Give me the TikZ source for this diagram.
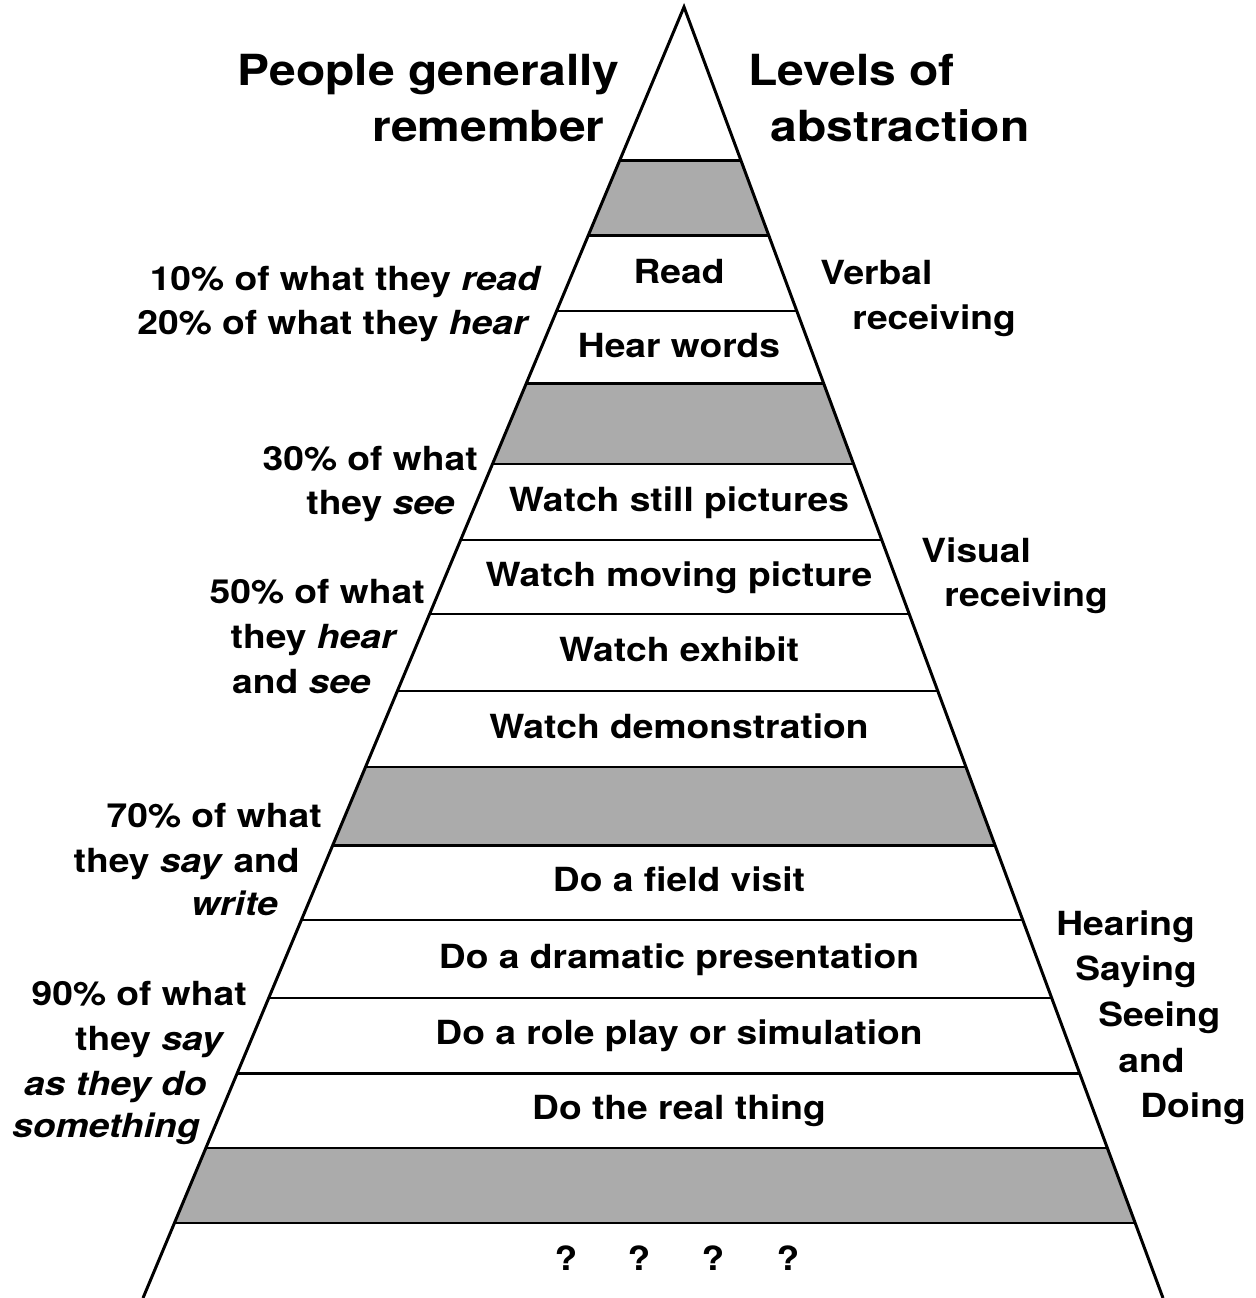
\documentclass[tikz,border=0pt]{standalone}
\usepackage{fontspec}
\setmainfont{TeX Gyre Heros}[FakeStretch=1.12]
\usetikzlibrary{calc}
\newcommand{\picw}{1255}
\newcommand{\pich}{1298}
\newcommand{\apexx}{684}
\newcommand{\apexy}{7}
\newcommand{\baselx}{143}
\newcommand{\baserx}{1163}
\newcommand{\sideh}{1291}
\newcommand{\midx}{679}
\newcommand{\headfont}{\fontsize{24.4}{30}\selectfont\bfseries}
\newcommand{\bodyfont}{\fontsize{18.9}{25}\selectfont\bfseries}
\tikzset{
  band/.style={fill=black!33},
  rung/.style={line width=1.7pt},
  rowlabel/.style={anchor=base, inner sep=0pt, font=\bodyfont},
  memlabel/.style={anchor=base east, inner sep=0pt, font=\bodyfont},
  lvllabel/.style={anchor=base west, inner sep=0pt, font=\bodyfont},
  headlabel/.style={inner sep=0pt, font=\headfont}
}

\begin{document}
\begin{tikzpicture}[x=0.02cm, y=-0.02cm]
    \useasboundingbox (0,0) rectangle (\picw,\pich);
    \coordinate (apex) at (\apexx,\apexy);
    \coordinate (baseL) at (\baselx,\pich);
    \coordinate (baseR) at (\baserx,\pich);
    % shaded bands
    \foreach \ya/\yb in {161/236, 384/464, 767/845, 1148/1223} {
      \fill[band] ($(apex)!{(\ya-\apexy)/\sideh}!(baseL)$)
        -- ($(apex)!{(\ya-\apexy)/\sideh}!(baseR)$)
        -- ($(apex)!{(\yb-\apexy)/\sideh}!(baseR)$)
        -- ($(apex)!{(\yb-\apexy)/\sideh}!(baseL)$) -- cycle;
    }
    % rungs
    \foreach \y in {161,236,311,384,464,540,614,691,767,845,920,998,1073,1148,1223} {
      \draw[rung] ($(apex)!{(\y-\apexy)/\sideh}!(baseL)$)
        -- ($(apex)!{(\y-\apexy)/\sideh}!(baseR)$);
    }
    % sides
    \draw[rung, line join=miter] (baseL) -- (apex) -- (baseR);
    % headings
    \node[headlabel, anchor=base east] (remA) at (620,85) {People generally};
    \node[headlabel, anchor=base east] (remB) at (605,141) {remember};
    \node[headlabel, anchor=base west] (absA) at (748,85) {Levels of};
    \node[headlabel, anchor=base west] (absB) at (770,141) {abstraction};
    % rows
    \foreach \y/\txt [count=\i] in {283/Read, 357/Hear words,
        511/Watch still pictures, 586/Watch moving picture,
        661/Watch exhibit, 738/Watch demonstration,
        891/Do a field visit, 968/Do a dramatic presentation,
        1044/Do a role play or simulation, 1119/Do the real thing} {
      \node[rowlabel] (row\i) at (\midx,\y) {\txt};
    }
    \node[rowlabel] (q1) at (566,1270) {?};
    \node[rowlabel] (q2) at (639,1270) {?};
    \node[rowlabel] (q3) at (713,1270) {?};
    \node[rowlabel] (q4) at (788,1270) {?};
    % what people remember
    \node[memlabel] (memA) at (542,290) {10\% of what they \textit{read}};
    \node[memlabel] (memB) at (530,334) {20\% of what they \textit{hear}};
    \node[memlabel] (memC) at (478,470) {30\% of what};
    \node[memlabel] (memD) at (455,514) {they \textit{see}};
    \node[memlabel] (memE) at (425,603) {50\% of what};
    \node[memlabel] (memF) at (398,648) {they \textit{hear}};
    \node[memlabel] (memG) at (371,693) {and \textit{see}};
    \node[memlabel] (memH) at (322,827) {70\% of what};
    \node[memlabel] (memI) at (300,872) {they \textit{say} and};
    \node[memlabel] (memJ) at (278,915) {\textit{write}};
    \node[memlabel] (memK) at (247,1005) {90\% of what};
    \node[memlabel] (memL) at (225,1050) {they \textit{say}};
    \node[memlabel] (memM) at (207,1095) {\textit{as they do}};
    \node[memlabel] (memN) at (200,1137) {\textit{something}};
    % levels
    \node[lvllabel] (lvlA) at (820,284) {Verbal};
    \node[lvllabel] (lvlB) at (852,329) {receiving};
    \node[lvllabel] (lvlC) at (921,562) {Visual};
    \node[lvllabel] (lvlD) at (944,606) {receiving};
    \node[lvllabel] (lvlE) at (1056,935) {Hearing};
    \node[lvllabel] (lvlF) at (1075,980) {Saying};
    \node[lvllabel] (lvlG) at (1098,1026) {Seeing};
    \node[lvllabel] (lvlH) at (1118,1072) {and};
    \node[lvllabel] (lvlI) at (1140,1117) {Doing};
\end{tikzpicture}
\end{document}
